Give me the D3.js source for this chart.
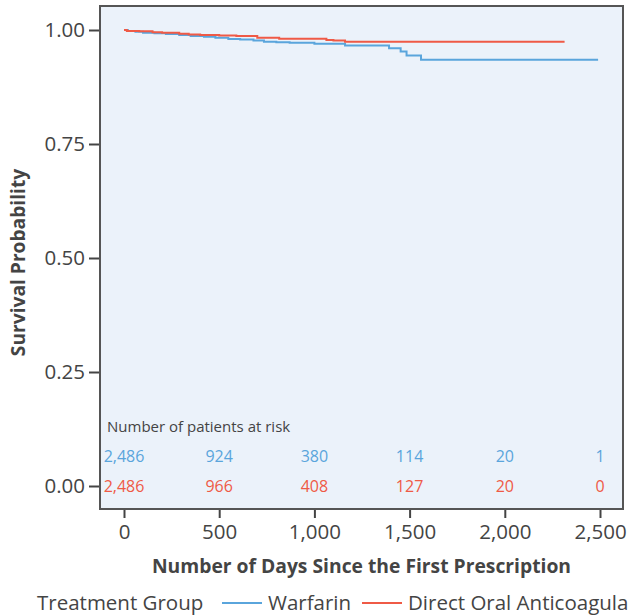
<!DOCTYPE html>
<html><head><meta charset="utf-8">
<script src="https://cdn.jsdelivr.net/npm/d3@7"></script>
<style>body{margin:0;background:#fff;} svg{display:block;}</style>
</head><body>
<svg id="c" width="629" height="616"></svg>
<script>
const groups = ["Warfarin", "Direct Oral Anticoagulant"];
const colors = ["#5aa5dc", "#ef5a46"];
const warfarinDays = [0, 20, 60, 100, 160, 220, 290, 350, 420, 480, 548, 610, 680, 735, 800, 870, 1000, 1161, 1392, 1453, 1484, 1560, 2490];
const warfarinSurv = [1.000, 0.998, 0.996, 0.994, 0.993, 0.991, 0.989, 0.987, 0.985, 0.983, 0.980, 0.979, 0.977, 0.974, 0.973, 0.972, 0.970, 0.966, 0.960, 0.953, 0.944, 0.935, 0.935];
const doacDays = [0, 15, 80, 150, 200, 290, 340, 400, 500, 590, 700, 815, 1063, 1100, 1161, 2314];
const doacSurv = [1.000, 0.998, 0.997, 0.995, 0.994, 0.992, 0.990, 0.989, 0.988, 0.987, 0.983, 0.981, 0.978, 0.977, 0.974, 0.974];
const xTicks = [0, 500, 1000, 1500, 2000, 2500];
const yTicks = [0, 0.25, 0.5, 0.75, 1.0];
const riskWarfarin = [2486, 924, 380, 114, 20, 1];
const riskDoac = [2486, 966, 408, 127, 20, 0];

const font = "'Open Sans', sans-serif";
const svg = d3.select("#c");
const L = 100, R = 623, T = 6, B = 509;
const x = d3.scaleLinear().domain([0, 2500]).range([124, 600]);
const y = d3.scaleLinear().domain([0, 1]).range([486, 30]);

svg.append("rect").attr("x", L).attr("y", T).attr("width", R - L).attr("height", B - T)
  .attr("fill", "#ebf2fa");

const series = [
  warfarinDays.map((d, i) => [d, warfarinSurv[i]]),
  doacDays.map((d, i) => [d, doacSurv[i]])
];
const line = d3.line().x(d => x(d[0])).y(d => y(d[1])).curve(d3.curveStepAfter);
series.forEach((s, i) => {
  svg.append("path").datum(s).attr("d", line).attr("fill", "none")
    .attr("stroke", colors[i]).attr("stroke-width", 2);
});

// risk table
svg.append("text").attr("x", 107).attr("y", y(0.13)).attr("dy", "0.35em")
  .attr("font-family", font).attr("font-size", 15).attr("fill", "#444")
  .text("Number of patients at risk");
[riskWarfarin, riskDoac].forEach((row, r) => {
  svg.append("g").selectAll("text").data(row).join("text")
    .attr("x", (d, i) => x(xTicks[i])).attr("y", y(r === 0 ? 0.066 : 0)).attr("dy", "0.35em")
    .attr("text-anchor", "middle").attr("font-family", font).attr("font-size", 16)
    .attr("fill", colors[r]).text(d => d3.format(",")(d));
});

svg.append("rect").attr("x", L).attr("y", T).attr("width", R - L).attr("height", B - T)
  .attr("fill", "none").attr("stroke", "#555").attr("stroke-width", 2);

// axes
const xa = svg.append("g").attr("transform", `translate(0,${B + 1})`)
  .call(d3.axisBottom(x).tickValues(xTicks).tickSize(8).tickPadding(6).tickFormat(d3.format(",")));
const ya = svg.append("g").attr("transform", `translate(${L - 1},0)`)
  .call(d3.axisLeft(y).tickValues(yTicks).tickSize(10).tickPadding(4).tickFormat(d3.format(".2f")));
[xa, ya].forEach(a => {
  a.select(".domain").remove();
  a.selectAll(".tick line").attr("stroke", "#444").attr("stroke-width", 2);
  a.selectAll(".tick text").attr("font-family", font).attr("font-size", 20.5).attr("fill", "#444");
});

svg.append("text").attr("x", (L + R) / 2).attr("y", 566).attr("dy", "0.35em")
  .attr("text-anchor", "middle").attr("font-family", font).attr("font-size", 19.3)
  .attr("font-weight", "bold").attr("fill", "#444")
  .text("Number of Days Since the First Prescription");
svg.append("text").attr("transform", `translate(18,${(170 + 355) / 2}) rotate(-90)`).attr("dy", "0.35em")
  .attr("text-anchor", "middle").attr("font-family", font).attr("font-size", 19.2)
  .attr("font-weight", "bold").attr("fill", "#444").text("Survival Probability");

// legend
const lg = svg.append("g").attr("font-family", font).attr("font-size", 20.5).attr("fill", "#444");
lg.append("text").attr("x", 37).attr("y", 603).attr("dy", "0.35em").text("Treatment Group");
const legX = [222, 362];
groups.forEach((g, i) => {
  lg.append("line").attr("x1", legX[i]).attr("x2", legX[i] + 40).attr("y1", 603).attr("y2", 603)
    .attr("stroke", colors[i]).attr("stroke-width", 2);
  lg.append("text").attr("x", legX[i] + 46).attr("y", 603).attr("dy", "0.35em").text(g);
});
</script>
</body></html>
